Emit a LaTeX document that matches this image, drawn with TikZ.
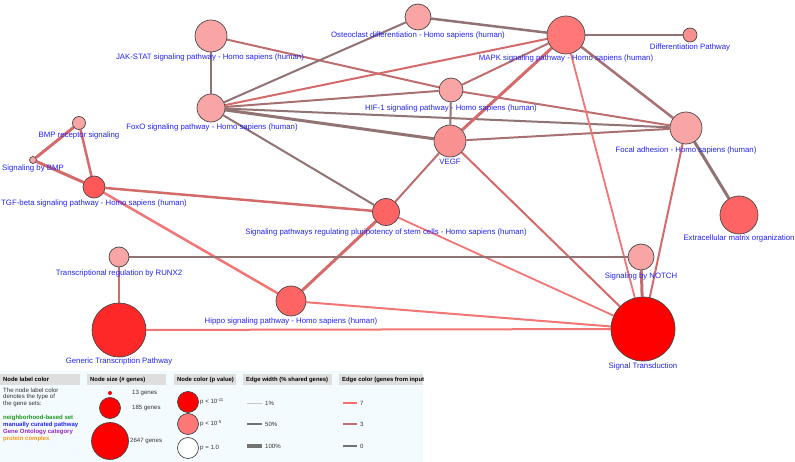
\documentclass[tikz,border=0pt]{standalone}
\usepackage{fontspec}
\setmainfont{Liberation Sans}
\usetikzlibrary{backgrounds}
\definecolor{lblue}{RGB}{35,35,245}
\definecolor{pkA}{RGB}{250,165,165}
\definecolor{pkB}{RGB}{249,145,145}
\definecolor{pkC}{RGB}{255,120,120}
\definecolor{pkD}{RGB}{255,100,100}
\definecolor{pkE}{RGB}{255,88,88}
\definecolor{pkF}{RGB}{255,40,40}
\definecolor{pkG}{RGB}{255,0,0}
\definecolor{eGrey}{RGB}{145,115,115}
\definecolor{eGM}{RGB}{168,112,112}
\definecolor{eMid}{RGB}{190,110,110}
\definecolor{eRM}{RGB}{212,106,106}
\definecolor{eRed}{RGB}{242,118,118}
\definecolor{kSeven}{RGB}{255,110,110}
\definecolor{kThree}{RGB}{192,110,110}
\definecolor{legbg}{RGB}{244,251,254}
\definecolor{hdr}{RGB}{222,222,222}
\definecolor{lgreen}{RGB}{30,150,30}
\definecolor{lpurple}{RGB}{150,40,190}
\definecolor{lorange}{RGB}{250,150,20}
\newcommand{\mysup}[1]{\raisebox{2.3pt}{\fontsize{4.3}{5}\selectfont #1}}
\tikzset{
  gn/.style 2 args={circle,draw=black!72,line width=0.7pt,fill=#1,minimum size=#2,inner sep=0pt},
  lbl/.style={text=lblue,font=\fontsize{7.8}{8.5}\selectfont,inner sep=0pt},
  ed/.style 2 args={draw=#1,line width=#2},
  htxt/.style={font=\bfseries\fontsize{5.9}{6.5}\selectfont,anchor=west,inner sep=0pt},
  ltxt/.style={font=\fontsize{6.1}{6.8}\selectfont,anchor=west,inner sep=0pt,text=black!80},
  ltag/.style={font=\bfseries\fontsize{6}{6.5}\selectfont,anchor=west,inner sep=0pt}
}
\begin{document}
\begin{tikzpicture}[x=1pt,y=-1pt]
\useasboundingbox (0,0) rectangle (795,462);
% nodes
\node[gn={pkA}{26pt}] (osteo) at (418,17) {};
\node[gn={pkA}{32pt}] (jak) at (211,36) {};
\node[gn={pkA}{28pt}] (foxo) at (211,108) {};
\node[gn={pkA}{24pt}] (hif) at (451,90) {};
\node[gn={pkC}{38pt}] (mapk) at (566,35) {};
\node[gn={pkB}{14pt}] (diff) at (690,35) {};
\node[gn={pkA}{32pt}] (focal) at (686,128) {};
\node[gn={pkB}{32pt}] (vegf) at (450,141) {};
\node[gn={pkA}{13pt}] (bmpr) at (79,123) {};
\node[gn={pkA}{7pt}] (sbmp) at (33,160) {};
\node[gn={pkE}{22pt}] (tgf) at (94,187) {};
\node[gn={pkD}{27pt}] (pluri) at (386,212) {};
\node[gn={pkA}{20pt}] (runx) at (119,257) {};
\node[gn={pkD}{30pt}] (hippo) at (291,301) {};
\node[gn={pkF}{54pt}] (gen) at (119,330) {};
\node[gn={pkA}{26pt}] (notch) at (641,257) {};
\node[gn={pkG}{64pt}] (st) at (643,329) {};
\node[gn={pkD}{38pt}] (ecm) at (739,215) {};
% labels
\node[lbl] (osteoL) at (418,35) {Osteoclast differentiation - Homo sapiens (human)};
\node[lbl] (jakL) at (210,57) {JAK-STAT signaling pathway - Homo sapiens (human)};
\node[lbl] (foxoL) at (212,127) {FoxO signaling pathway - Homo sapiens (human)};
\node[lbl] (hifL) at (451,108) {HIF-1 signaling pathway - Homo sapiens (human)};
\node[lbl] (mapkL) at (566,58) {MAPK signaling pathway - Homo sapiens (human)};
\node[lbl] (diffL) at (690,47) {Differentiation Pathway};
\node[lbl] (focalL) at (686,150) {Focal adhesion - Homo sapiens (human)};
\node[lbl] (vegfL) at (450,162) {VEGF};
\node[lbl] (bmprL) at (79,135) {BMP receptor signaling};
\node[lbl] (sbmpL) at (33,168) {Signaling by BMP};
\node[lbl] (tgfL) at (94,203) {TGF-beta signaling pathway - Homo sapiens (human)};
\node[lbl] (pluriL) at (386,232) {Signaling pathways regulating pluripotency of stem cells - Homo sapiens (human)};
\node[lbl] (runxL) at (119,273) {Transcriptional regulation by RUNX2};
\node[lbl] (hippoL) at (291,321) {Hippo signaling pathway - Homo sapiens (human)};
\node[lbl] (genL) at (119,361) {Generic Transcription Pathway};
\node[lbl] (notchL) at (641,276) {Signaling by NOTCH};
\node[lbl] (stL) at (643,366) {Signal Transduction};
\node[lbl] (ecmL) at (739,238) {Extracellular matrix organization};
% legend headers
\fill[hdr] (0,374) rectangle (80,385);
\node[htxt] (h1) at (3,379.5) {Node label color};
\fill[hdr] (87,374) rectangle (166,385);
\node[htxt] (h2) at (90,379.5) {Node size (\# genes)};
\fill[hdr] (174,374) rectangle (236,385);
\node[htxt] (h3) at (177,379.5) {Node color (p value)};
\fill[hdr] (243,374) rectangle (332,385);
\node[htxt] (h4) at (246,379.5) {Edge width (\% shared genes)};
\begin{scope}
\clip (339,372) rectangle (423,388);
\fill[hdr] (339,374) rectangle (423,385);
\node[htxt] (h5) at (342,379.5) {Edge color (genes from input)};
\end{scope}
% legend column 1
\node[ltxt,align=left,anchor=north west] (t1) at (3,387.5) {The node label color\\denotes the type of\\the gene sets:};
\node[ltag,text=lgreen] (t2) at (3,418) {neighborhood-based set};
\node[ltag,text=lblue] (t3) at (3,425) {manually curated pathway};
\node[ltag,text=lpurple] (t4) at (3,432) {Gene Ontology category};
\node[ltag,text=lorange] (t5) at (3,438.5) {protein complex};
% legend column 2
\node[circle,fill=pkG,inner sep=0pt,minimum size=4pt] (s1) at (110,393) {};
\node[gn={pkG}{21pt}] (s2) at (110,408) {};
\node[gn={pkG}{37pt}] (s3) at (110,441) {};
\node[ltxt] (s1t) at (132,393) {13 genes};
\node[ltxt] (s2t) at (132,408) {185 genes};
\node[ltxt] (s3t) at (130,441) {2647 genes};
% legend column 3
\node[gn={pkG}{21pt}] (c1) at (188,402) {};
\node[gn={pkC}{21pt}] (c2) at (188,424) {};
\node[gn={white}{21pt}] (c3) at (188,448) {};
\node[ltxt] (c1t) at (200,402) {p < 10\mysup{-11}};
\node[ltxt] (c2t) at (200,424) {p < 10\mysup{-5}};
\node[ltxt] (c3t) at (200,448) {p = 1.0};
% legend column 4
\coordinate (w1a) at (247,403); \coordinate (w1b) at (262,403);
\coordinate (w2a) at (247,424); \coordinate (w2b) at (262,424);
\coordinate (w3a) at (247,446); \coordinate (w3b) at (262,446);
\draw[ed={black!22}{0.9pt}] (w1a) -- (w1b);
\draw[ed={black!55}{2.4pt}] (w2a) -- (w2b);
\draw[ed={black!55}{4.5pt}] (w3a) -- (w3b);
\node[ltxt] (w1t) at (265,403) {1\%};
\node[ltxt] (w2t) at (265,424) {50\%};
\node[ltxt] (w3t) at (265,446) {100\%};
% legend column 5
\coordinate (k1a) at (343,403); \coordinate (k1b) at (357,403);
\coordinate (k2a) at (343,424); \coordinate (k2b) at (357,424);
\coordinate (k3a) at (343,446); \coordinate (k3b) at (357,446);
\draw[ed={kSeven}{2pt}] (k1a) -- (k1b);
\draw[ed={kThree}{2pt}] (k2a) -- (k2b);
\draw[ed={black!55}{2pt}] (k3a) -- (k3b);
\node[ltxt] (k1t) at (360,403) {7};
\node[ltxt] (k2t) at (360,424) {3};
\node[ltxt] (k3t) at (360,446) {0};
\begin{pgfonlayer}{background}
\fill[white] (0,0) rectangle (795,462);
\fill[legbg] (0,371) rectangle (423,462);
% edges
\draw[ed={eGrey}{2pt}] (jak) -- (foxo);
\draw[ed={eMid}{2pt}] (jak) -- (hif);
\draw[ed={eMid}{2pt}] (hif) -- (focal);
\draw[ed={eGrey}{2pt}] (osteo) -- (foxo);
\draw[ed={eGrey}{2.5pt}] (osteo) -- (mapk);
\draw[ed={eRM}{2pt}] (foxo) -- (mapk);
\draw[ed={eGM}{2pt}] (foxo) -- (hif);
\draw[ed={eGrey}{2pt}] (foxo) -- (focal);
\draw[ed={eGrey}{3pt}] (foxo) -- (vegf);
\draw[ed={eGrey}{2pt}] (foxo) -- (pluri);
\draw[ed={eMid}{2pt}] (hif) -- (mapk);
\draw[ed={eGrey}{2pt}] (hif) -- (vegf);
\draw[ed={eRM}{3pt}] (vegf) -- (mapk);
\draw[ed={eGM}{2pt}] (vegf) -- (focal);
\draw[ed={eMid}{2pt}] (vegf) -- (pluri);
\draw[ed={eRM}{2pt}] (vegf) -- (st);
\draw[ed={eGrey}{2.5pt}] (mapk) -- (diff);
\draw[ed={eGM}{2.5pt}] (mapk) -- (focal);
\draw[ed={eRed}{1.8pt}] (mapk) -- (st);
\draw[ed={eRM}{2pt}] (focal) -- (st);
\draw[ed={eGrey}{3pt}] (focal) -- (ecm);
\draw[ed={eRM}{3pt}] (bmpr) -- (sbmp);
\draw[ed={eRM}{2.5pt}] (bmpr) -- (tgf);
\draw[ed={eRM}{3pt}] (sbmp) -- (tgf);
\draw[ed={eRM}{2.5pt}] (tgf) -- (pluri);
\draw[ed={eRed}{2.5pt}] (tgf) -- (hippo);
\draw[ed={eRM}{3pt}] (pluri) -- (hippo);
\draw[ed={eRed}{1.8pt}] (pluri) -- (st);
\draw[ed={eRed}{2pt}] (hippo) -- (st);
\draw[ed={eRed}{2pt}] (gen) -- (st);
\draw[ed={eRM}{2.5pt}] (gen) -- (runx);
\draw[ed={eGrey}{2pt}] (runx) -- (notch);
\draw[ed={eMid}{3pt}] (notch) -- (st);
\end{pgfonlayer}
\end{tikzpicture}
\end{document}
